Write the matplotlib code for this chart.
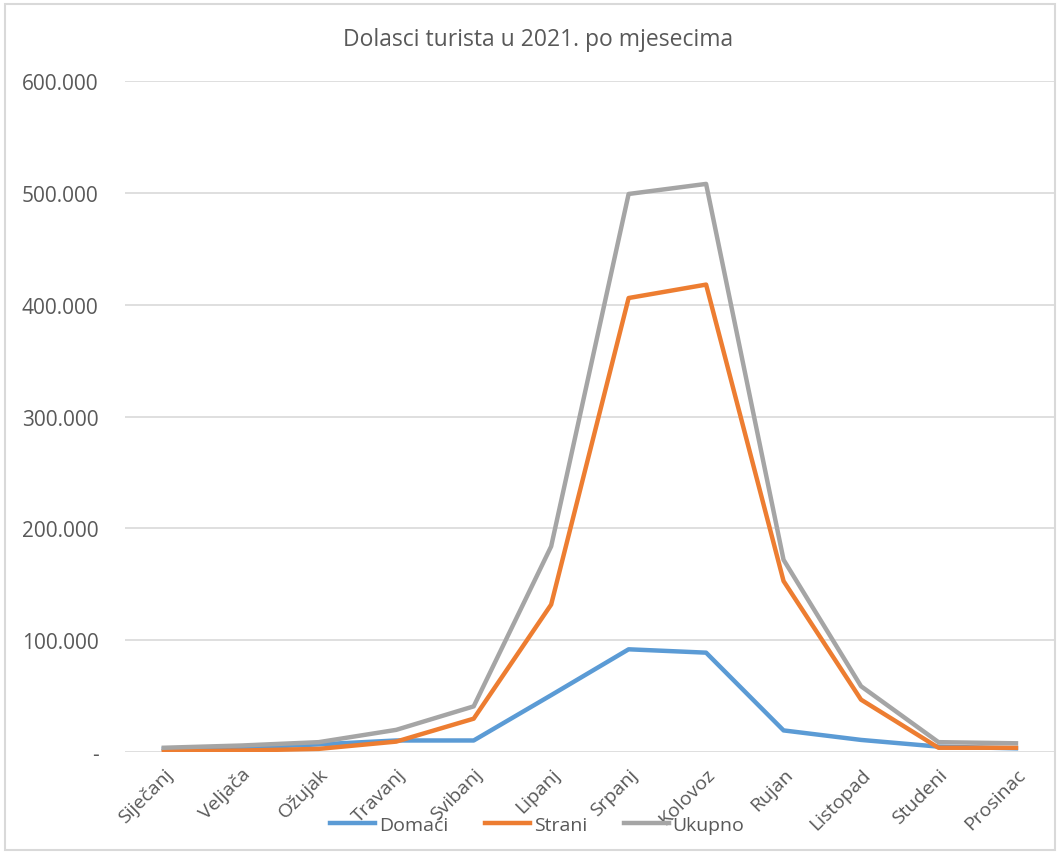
import matplotlib.pyplot as plt
from matplotlib.patches import Rectangle
from matplotlib.ticker import FuncFormatter

plt.rcParams['font.family'] = ['Open Sans', 'DejaVu Sans']

# mjeseci i dolasci turista (procjena sa slike)
mjeseci = ['Siječanj', 'Veljača', 'Ožujak', 'Travanj', 'Svibanj', 'Lipanj',
           'Srpanj', 'Kolovoz', 'Rujan', 'Listopad', 'Studeni', 'Prosinac']
domaci = [3000, 4000, 7000, 10500, 10500, 51000, 92000, 89000, 19500, 11000, 5000, 3500]
strani = [1000, 1500, 3000, 9500, 30000, 132000, 406000, 418000, 153000, 47000, 4000, 4000]
ukupno = [4000, 6000, 9000, 20000, 41000, 184000, 499000, 508000, 172000, 59000, 9000, 8000]

text_col = '#595959'
grid_col = '#D9D9D9'

fig = plt.figure(figsize=(10.6, 8.54), dpi=100)
ax = fig.add_axes([0.118, 0.118, 0.877, 0.786])

x = range(len(mjeseci))
ax.plot(x, domaci, color='#5B9BD5', lw=3.2, label='Domaći', solid_joinstyle='round')
ax.plot(x, strani, color='#ED7D31', lw=3.2, label='Strani', solid_joinstyle='round')
ax.plot(x, ukupno, color='#A5A5A5', lw=3.2, label='Ukupno', solid_joinstyle='round')

ax.set_xlim(-0.5, 11.5)
ax.set_ylim(0, 600000)
ax.set_yticks(range(0, 600001, 100000))


def fmt(v, pos):
    if v == 0:
        return '-'
    return '{:,.0f}'.format(v).replace(',', '.')


ax.yaxis.set_major_formatter(FuncFormatter(fmt))
ax.grid(axis='y', color=grid_col, lw=1.2)
ax.set_axisbelow(True)
for s in ax.spines.values():
    s.set_visible(False)
ax.tick_params(length=0, colors=text_col, labelsize=14)
ax.tick_params(axis='y', pad=19, labelsize=15)
ax.set_xticks(list(x))
ax.set_xticklabels(mjeseci, rotation=45, ha='right', rotation_mode='anchor')
ax.tick_params(axis='x', pad=9)

fig.text(0.508, 0.953, 'Dolasci turista u 2021. po mjesecima', ha='center', va='center',
         fontsize=16.5, color=text_col)

fig.legend(loc='center', bbox_to_anchor=(0.507, 0.033), ncol=3, frameon=False,
           fontsize=14, labelcolor=text_col, handlelength=2.3, columnspacing=1.9,
           handletextpad=0.2)

fig.patches.append(Rectangle((0.005, 0.004), 0.99, 0.99, transform=fig.transFigure,
                             fill=False, edgecolor=grid_col, lw=1.5))

fig.savefig('out.png', dpi=100)
